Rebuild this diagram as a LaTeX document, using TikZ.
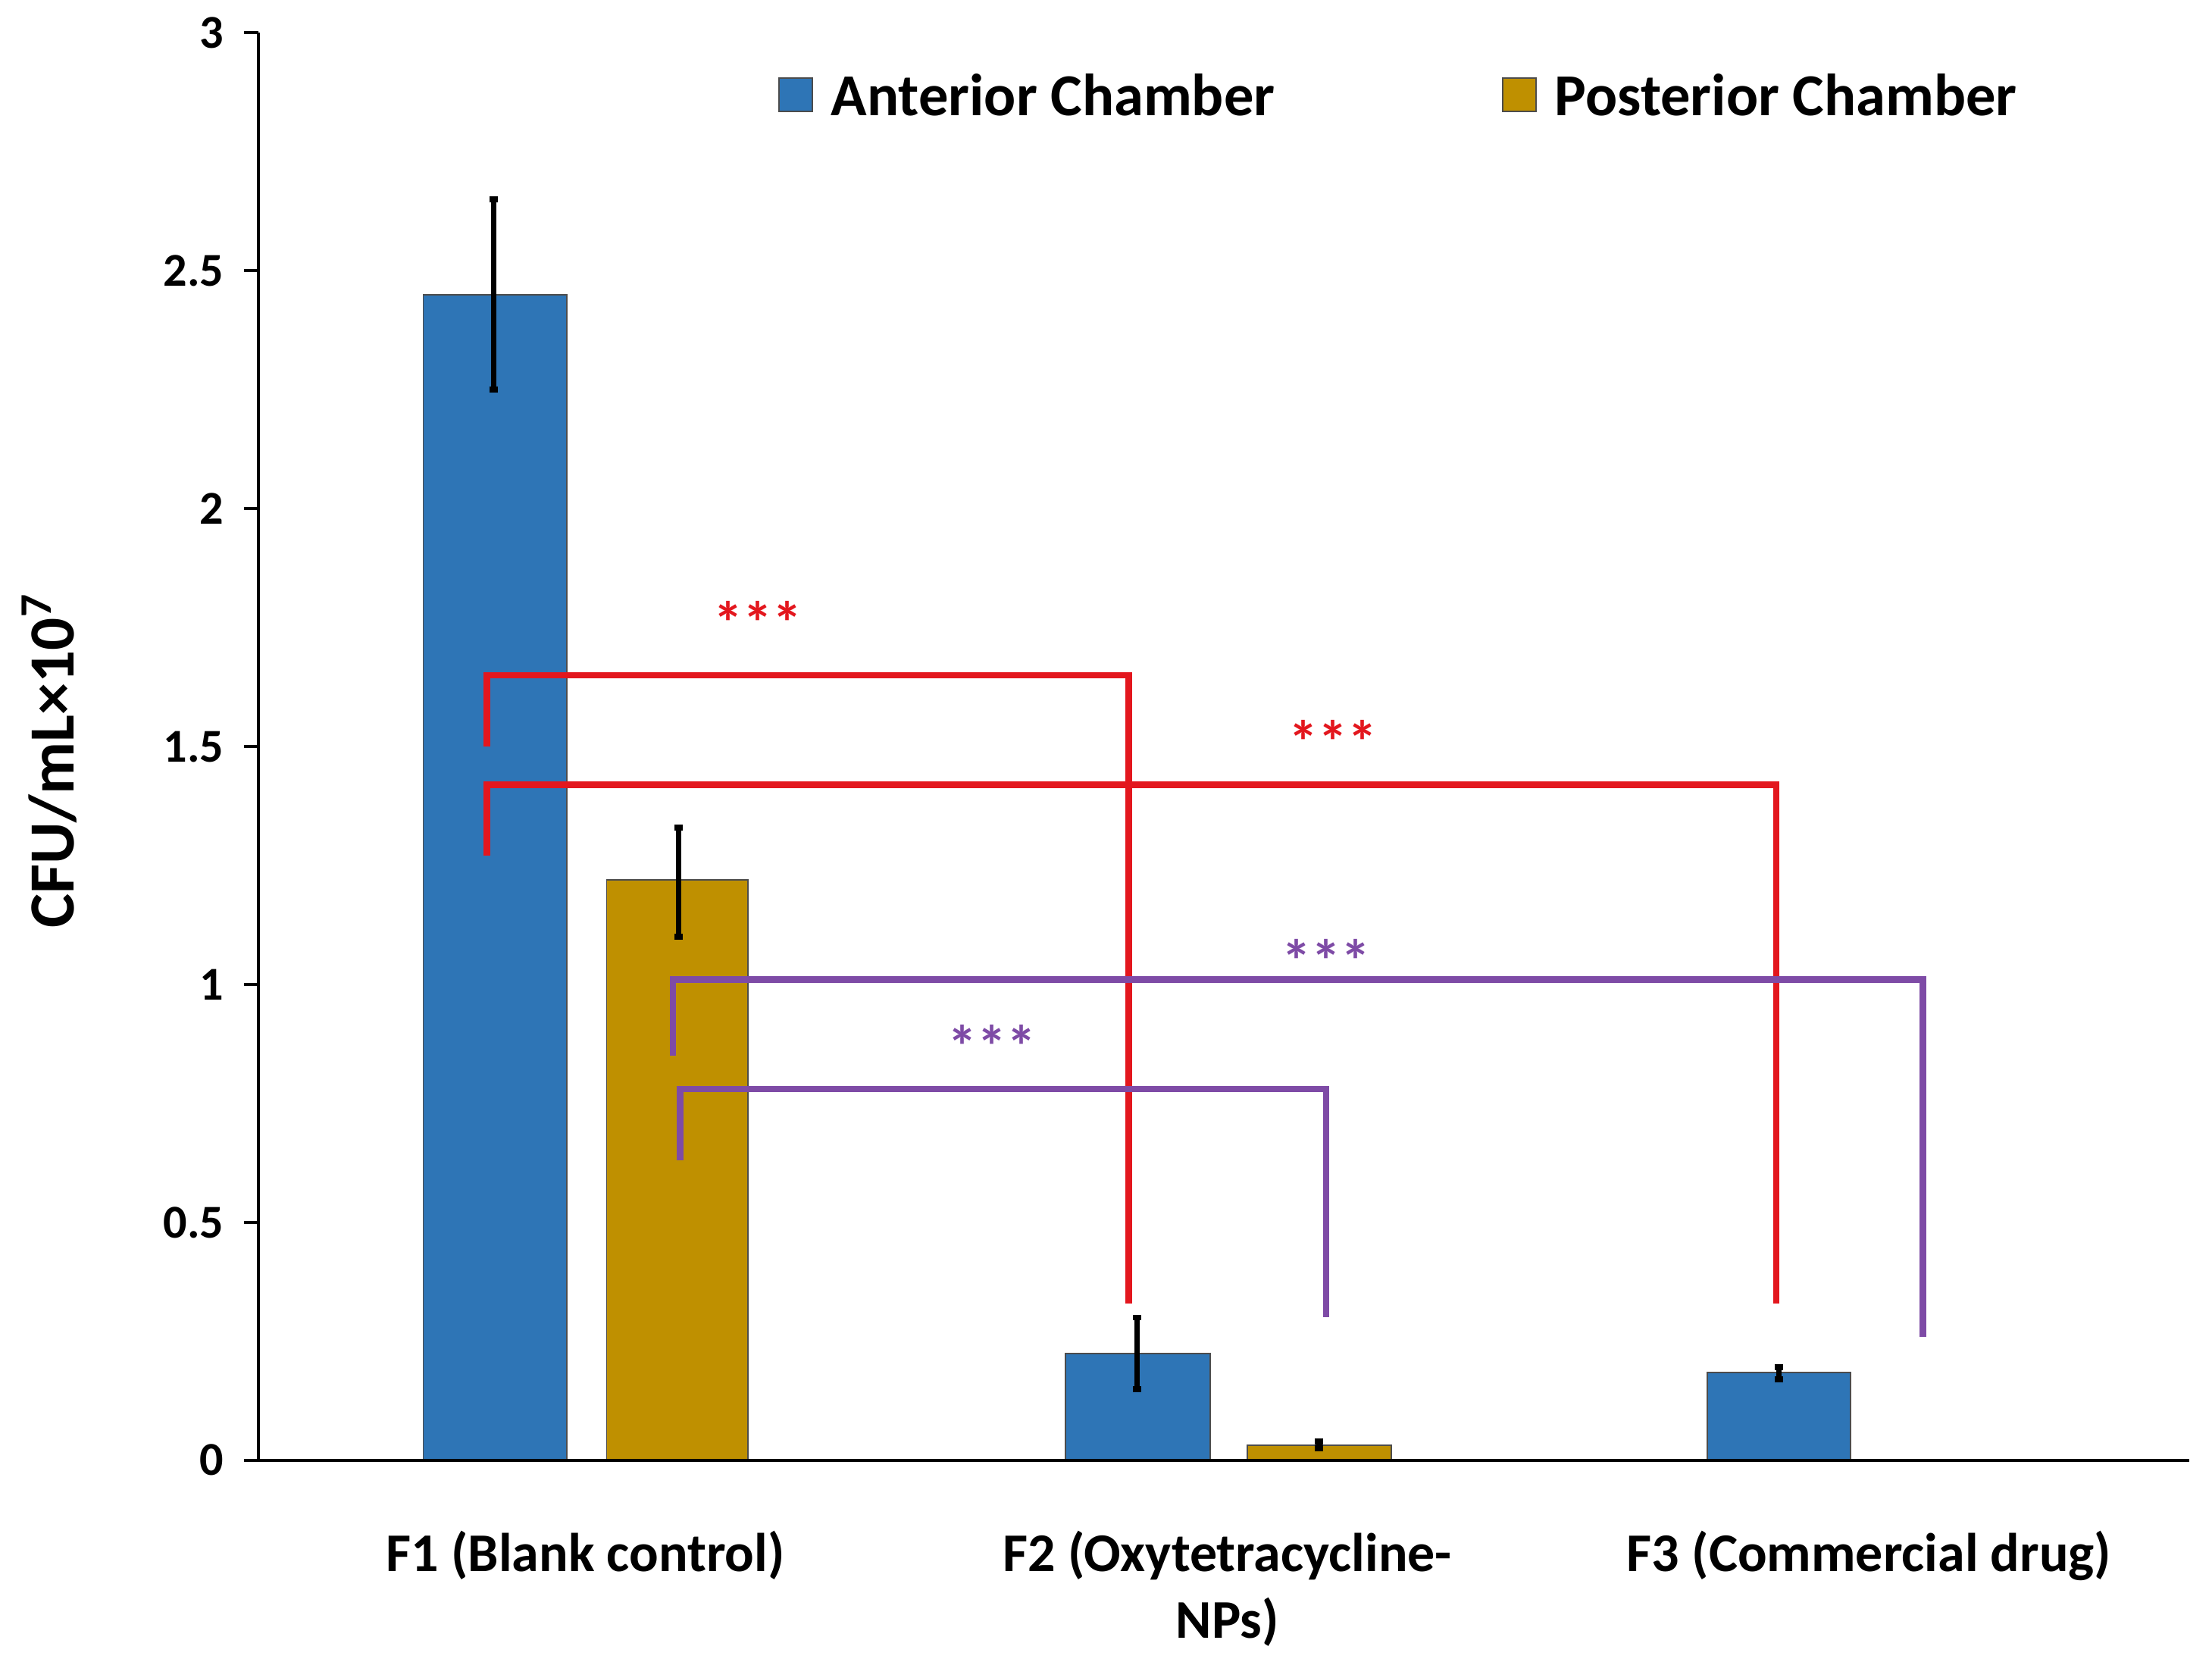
\documentclass[tikz,border=0pt]{standalone}
\usepackage{fontspec}
\setmainfont{Carlito}
\usetikzlibrary{positioning}
\definecolor{antblue}{HTML}{2E75B6}
\definecolor{postgold}{HTML}{BF9000}
\definecolor{sigred}{HTML}{E3171E}
\definecolor{sigpurple}{HTML}{7E4BA6}
\tikzset{
  bar/.style={draw=black!70, line width=0.6pt},
  err/.style={line width=2.4pt, black},
  sig/.style={line width=2.6pt},
  tick/.style={font=\fontsize{19}{20}\selectfont\bfseries, anchor=east},
  cat/.style={font=\fontsize{22}{27}\selectfont\bfseries, align=center, anchor=north}
}
\begin{document}
\begin{tikzpicture}[x=0.02cm, y=0.02cm]
\useasboundingbox (0,0) rectangle (1568,1178);
\begin{scope}[shift={(183,143)}, y=6.746cm]
% bars
\fill[antblue, bar] (117,0) rectangle (219,2.45);
\fill[postgold, bar] (247,0) rectangle (347,1.22);
\fill[antblue, bar] (572,0) rectangle (675,0.225);
\fill[postgold, bar] (701,0) rectangle (803,0.032);
\fill[antblue, bar] (1027,0) rectangle (1129,0.185);
\draw[black!50] (1150,0) -- (1260,0);
% error bars
\foreach \x/\lo/\hi in {167/2.25/2.65, 298/1.10/1.33, 623/0.15/0.30, 752/0.025/0.04, 1078/0.17/0.195}
  \draw[err] (\x,\lo) -- (\x,\hi) (\x-3,\lo) -- (\x+3,\lo) (\x-3,\hi) -- (\x+3,\hi);
% axes
\draw[line width=1.2pt] (0,0) -- (0,3);
\draw[line width=1.2pt] (0,0) -- (1369,0);
\foreach \v in {0,0.5,1,1.5,2,2.5,3}
  \draw[line width=1.2pt] (-10,\v) -- (0,\v) node[tick, left=10pt] (t\v) {\v};
\node[rotate=90, font=\fontsize{26}{30}\selectfont\bfseries] (ylab) at (-148,1.47) {CFU/mL×10$^{\mathbf{7}}$};
% categories
\node[cat] (c1) at (232,-0.13) {F1 (Blank control)};
\node[cat] (c2) at (687,-0.13) {F2 (Oxytetracycline-\\NPs)};
\node[cat] (c3) at (1142,-0.13) {F3 (Commercial drug)};
% significance brackets
\draw[sig, sigred] (162,1.5) |- (617,1.65) -- (617,0.33);
\draw[sig, sigred] (162,1.27) |- (1076,1.42) -- (1076,0.33);
\draw[sig, sigpurple] (294,0.85) |- (1180,1.01) -- (1180,0.26);
\draw[sig, sigpurple] (299,0.63) |- (757,0.78) -- (757,0.30);
\node[sigred, font=\fontsize{24}{24}\selectfont\bfseries] (s1) at (354,1.76) {***};
\node[sigred, font=\fontsize{24}{24}\selectfont\bfseries] (s2) at (762,1.51) {***};
\node[sigpurple, font=\fontsize{24}{24}\selectfont\bfseries] (s3) at (757,1.05) {***};
\node[sigpurple, font=\fontsize{24}{24}\selectfont\bfseries] (s4) at (520,0.87) {***};
% legend
\fill[antblue, bar] (369,2.835) rectangle (393,2.905);
\node[anchor=west, font=\fontsize{24}{26}\selectfont\bfseries] (lA) at (400,2.87) {Anterior Chamber};
\fill[postgold, bar] (882,2.835) rectangle (906,2.905);
\node[anchor=west, font=\fontsize{24}{26}\selectfont\bfseries] (lP) at (913,2.87) {Posterior Chamber};
\end{scope}
\end{tikzpicture}
\end{document}
